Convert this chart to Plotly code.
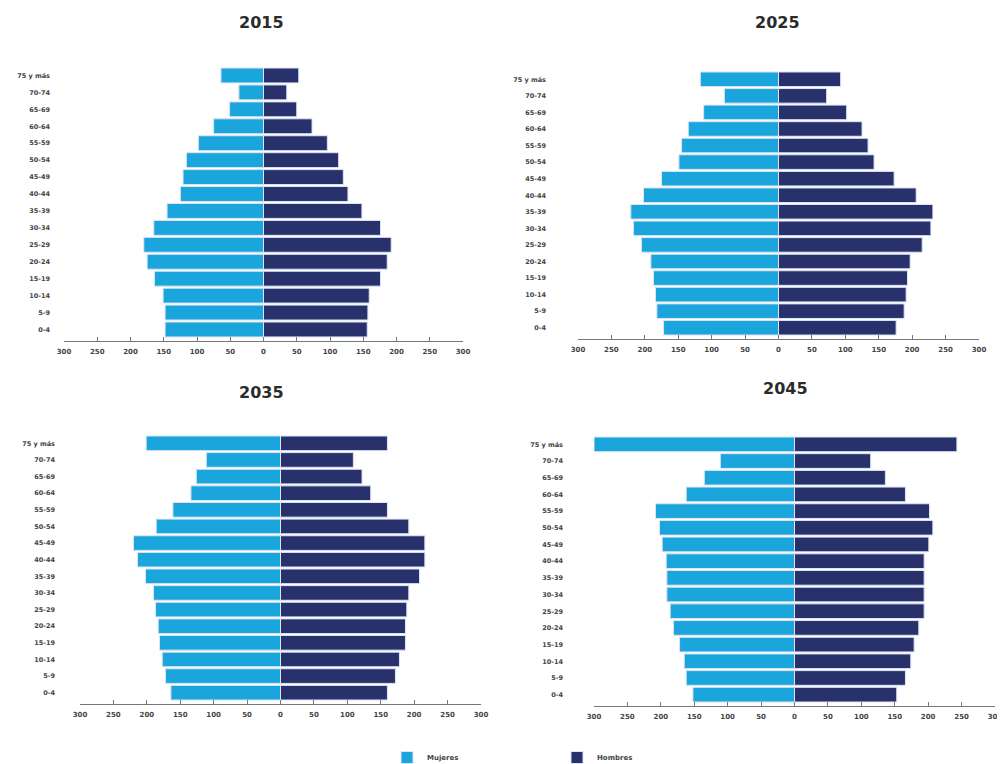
import plotly.graph_objects as go

W, H = 1005, 764
OFF = 8  # page body margin offset in the browser

age_groups = ["0-4", "5-9", "10-14", "15-19", "20-24", "25-29", "30-34", "35-39",
              "40-44", "45-49", "50-54", "55-59", "60-64", "65-69", "70-74", "75 y más"]

years = ["2015", "2025", "2035", "2045"]

# values listed from 0-4 up to 75 y más
mujeres_2015 = [148, 148, 151, 164, 175, 180, 165, 145, 125, 121, 116, 98, 75, 51, 37, 64]
hombres_2015 = [156, 157, 159, 176, 186, 192, 176, 148, 127, 120, 113, 96, 73, 50, 35, 53]

mujeres_2025 = [172, 182, 184, 187, 191, 205, 217, 221, 202, 175, 149, 145, 135, 112, 81, 117]
hombres_2025 = [176, 188, 191, 193, 197, 215, 228, 231, 206, 173, 143, 134, 125, 102, 72, 93]

mujeres_2035 = [164, 172, 177, 181, 183, 187, 190, 202, 214, 220, 186, 161, 134, 126, 111, 201]
hombres_2035 = [160, 172, 178, 187, 187, 189, 192, 208, 216, 216, 192, 160, 135, 122, 109, 160]

mujeres_2045 = [152, 162, 165, 172, 181, 186, 191, 191, 192, 198, 202, 208, 162, 135, 111, 300]
hombres_2045 = [153, 166, 174, 179, 186, 194, 194, 194, 194, 201, 207, 202, 166, 136, 114, 243]

x_tick_vals = [-300, -250, -200, -150, -100, -50, 0, 50, 100, 150, 200, 250, 300]
x_tick_text = ["300", "250", "200", "150", "100", "50", "0", "50", "100", "150", "200", "250", "300"]

mujeres = [mujeres_2015, mujeres_2025, mujeres_2035, mujeres_2045]
hombres = [hombres_2015, hombres_2025, hombres_2035, hombres_2045]

COL_M = "#1aa5dd"
COL_H = "#28316b"
EDGE = "#dde4f4"

# panel geometry in screen pixels: (x0, x1, ytop, ybottom)
panels = [(64, 463, 67, 341), (578, 979, 71, 339), (80, 481, 435, 704), (594, 995, 436, 706)]
ylabel_standoff = [13, 31, 24, 30]
title_pos = [(261, 22), (777, 22), (262, 392), (785, 388)]


def px_x(v):
    return (v - OFF) / W


def px_y(v):
    return 1 - (v - OFF) / H


fig = go.Figure()
layout = dict(
    width=W, height=H, margin=dict(l=0, r=0, t=0, b=0, autoexpand=False),
    paper_bgcolor="white", plot_bgcolor="white",
    barmode="overlay", bargap=0.12,
    font=dict(family="DejaVu Sans", color="#333333"),
    showlegend=True,
    legend=dict(orientation="h", x=379 / W, y=0, xanchor="left", yanchor="bottom",
                entrywidth=125, entrywidthmode="pixels",
                font=dict(size=7, color="#444444", weight="bold"),
                itemwidth=30, traceorder="normal", bgcolor="rgba(0,0,0,0)"),
)

annotations = []
for i, yr in enumerate(years):
    ax = "" if i == 0 else str(i + 1)
    x0, x1, yt, yb = panels[i]
    fig.add_trace(go.Bar(
        y=age_groups, x=[-v for v in mujeres[i]], orientation="h",
        name="Mujeres", marker=dict(color=COL_M, line=dict(color=EDGE, width=1)),
        xaxis="x" + ax, yaxis="y" + ax, showlegend=(i == 0), legendgroup="m",
        customdata=mujeres[i], hovertemplate="%{y}: %{customdata}<extra>Mujeres</extra>"))
    fig.add_trace(go.Bar(
        y=age_groups, x=hombres[i], orientation="h",
        name="Hombres", marker=dict(color=COL_H, line=dict(color=EDGE, width=1)),
        xaxis="x" + ax, yaxis="y" + ax, showlegend=(i == 0), legendgroup="h"))
    layout["xaxis" + ax] = dict(
        domain=[px_x(x0), px_x(x1)], anchor="y" + ax, range=[-300, 300], automargin=False,
        tickmode="array", tickvals=x_tick_vals, ticktext=x_tick_text,
        showgrid=False, zeroline=False, showline=True, linecolor="#777777", linewidth=1,
        ticks="inside", ticklen=4, tickcolor="#777777", ticklabelstandoff=4,
        tickfont=dict(size=7, color="#444444", weight="bold"), fixedrange=True)
    layout["yaxis" + ax] = dict(
        domain=[px_y(yb), px_y(yt)], anchor="x" + ax, range=[-0.68, 15.5], automargin=False,
        type="category", showgrid=False, zeroline=False, showline=False,
        ticks="", ticklabelstandoff=ylabel_standoff[i],
        tickfont=dict(size=6.5, color="#444444", weight="bold"), fixedrange=True)
    tx, ty = title_pos[i]
    annotations.append(dict(text="<b>" + yr + "</b>", x=px_x(tx), y=px_y(ty), xref="paper", yref="paper",
                            showarrow=False, xanchor="center", yanchor="middle",
                            font=dict(size=16, color="#2b2b2b", family="DejaVu Sans")))

layout["annotations"] = annotations
fig.update_layout(**layout)
fig.write_html("out.html")
